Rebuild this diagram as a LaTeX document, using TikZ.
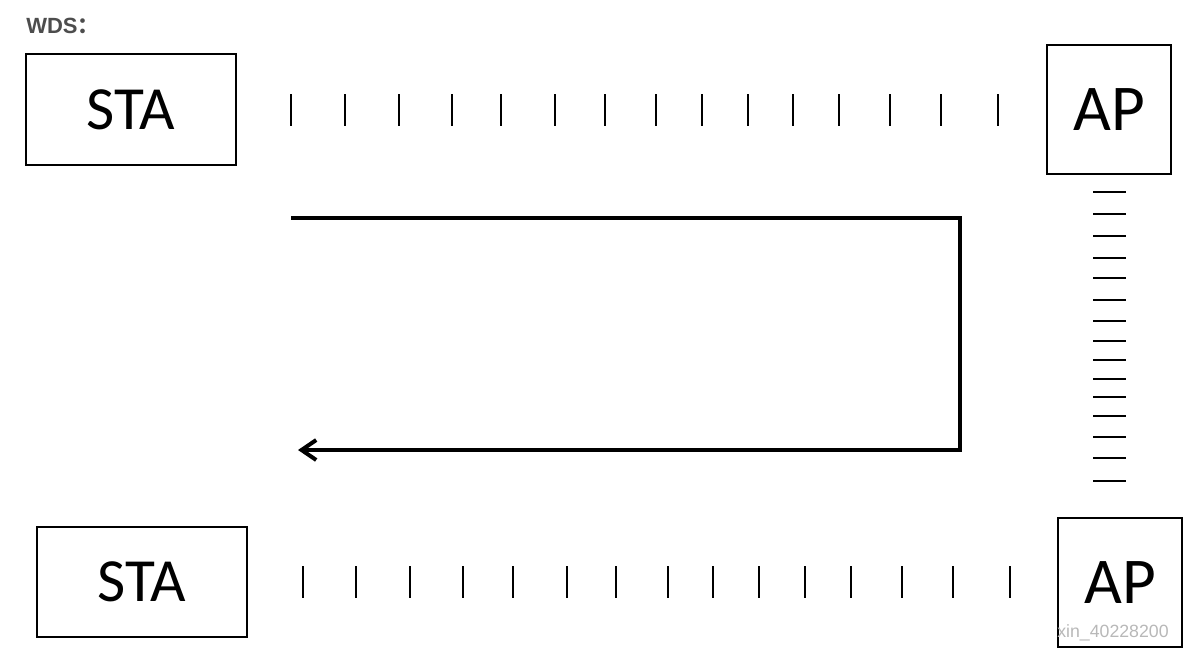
\documentclass[tikz,border=0pt]{standalone}
\usepackage{fontspec}
\setmainfont{Carlito}
\newfontfamily\titrefont{Liberation Sans}
\newfontfamily\cjk{Noto Sans CJK SC}
\usepackage{xcolor}
\usetikzlibrary{calc, positioning, arrows, arrows.meta}
\definecolor{titregris}{HTML}{4D4D4D}

\begin{document}
\begin{tikzpicture}[x = 0.75pt, y = -0.75pt]
		\tikzstyle{boite}=[draw, line width=1.5pt, inner sep=0pt, font=\fontsize{46}{50}\selectfont]
		\tikzstyle{trait}=[line width=1.1pt]
		\tikzstyle{fleche}=[-{Straight Barb[length=11pt,width=15pt]}, line width=3pt]
		\useasboundingbox (0,0) rectangle (1201,662);

		\node[anchor=base west, inner sep=0pt, text=titregris, font=\titrefont\bfseries\fontsize{16.5}{19}\selectfont] (titre) at (26,33) {WDS{\cjk ：}};

		\node[boite, minimum width=157.5pt, minimum height=83pt] (sta1) at (131,109.5) {STA};
		\node[boite, minimum width=93pt, minimum height=96.75pt, font=\fontsize{49}{52}\selectfont] (ap1) at (1109,109.5) {AP};
		\node[boite, minimum width=157.5pt, minimum height=82.5pt] (sta2) at (142,582) {STA};
		\node[boite, minimum width=93pt, minimum height=96.75pt, font=\fontsize{49}{52}\selectfont] (ap2) at (1120,582.5) {AP};

		% liaisons
		\foreach \x in {291,345,399,452,501,555,605,656,702,748,793,839,890,941,998}
			\draw[trait] (\x,94) -- (\x,126);
		\foreach \x in {303,356,410,463,513,567,616,668,713,759,805,851,902,953,1010}
			\draw[trait] (\x,566) -- (\x,598);
		\foreach \y in {192,214,236,258,278,300,321,341,360,379,397,416,437,458,481}
			\draw[trait] (1093,\y) -- (1126,\y);

		\coordinate (depart) at (291,218);
		\coordinate (coin1) at (960,218);
		\coordinate (coin2) at (960,450);
		\coordinate (arrivee) at (298,450);
		\draw[fleche] (depart) -- (coin1) -- (coin2) -- (arrivee);

		\node[anchor=base west, inner sep=0pt, text=black!28, font=\titrefont\fontsize{13.3}{15}\selectfont] (marque) at (1057,637) {xin\_40228200};
	\end{tikzpicture}
\end{document}
